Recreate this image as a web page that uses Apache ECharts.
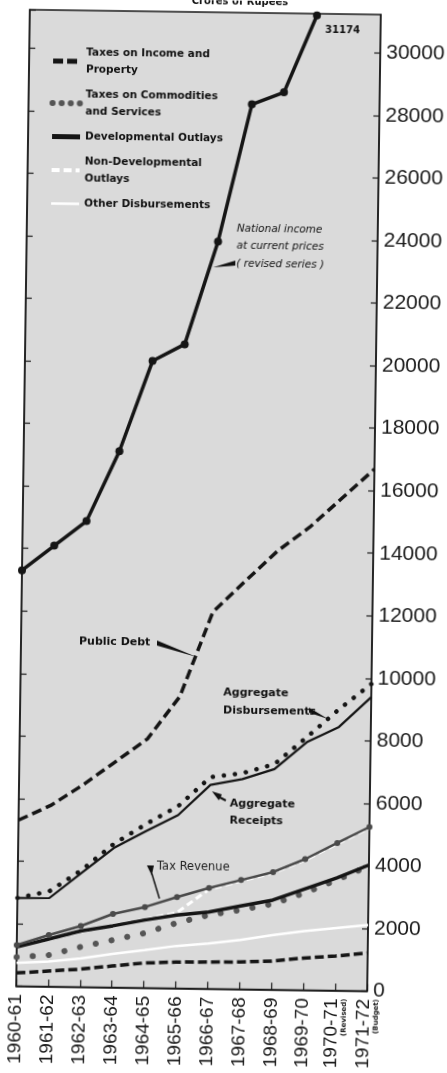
<!DOCTYPE html>
<html><head><meta charset="utf-8">
<script src="https://cdn.jsdelivr.net/npm/echarts/dist/echarts.min.js"></script>
<style>html,body{margin:0;padding:0;background:#fff;overflow:hidden}
#c{width:447px;height:1073px;transform:rotate(0.8deg);transform-origin:192px 500px}</style>
</head><body><div id="c"></div><script>
const categories = ['1960-61','1961-62','1962-63','1963-64','1964-65','1965-66','1966-67','1967-68','1968-69','1969-70','1970-71','1971-72'];
const categoryNotes = {'1970-71':'(Revised)','1971-72':'(Budget)'};
const yTicks = {min:0, max:31230, step:2000};
const nationalIncome = [13300,14100,14900,17150,20050,20600,23900,28300,28700,31174,null,null];
const publicDebt     = [5310,5790,6460,7210,7960,9330,12050,13050,14030,14810,15750,16690];
const aggDisbursements = [2820,3050,3740,4590,5240,5830,6770,6910,7215,8090,9000,9820];
const aggReceipts    = [2820,2830,3650,4460,5015,5540,6520,6720,7055,7930,8430,9400];
const taxRevenue     = [1315,1645,1950,2350,2585,2920,3220,3490,3760,4190,4720,5245];
const devOutlays     = [1250,1520,1790,1970,2170,2345,2455,2660,2865,3235,3600,4030];
const commodityTaxes = [930,1005,1280,1515,1750,2090,2355,2535,2740,3105,3535,4000];
const incomeTaxes    = [420,495,570,685,795,840,855,870,915,1025,1105,1215];
const nonDevOutlays  = [1290,1500,1760,1980,2190,2420,3180,3460,3730,4160,4690,5215];
const otherDisbursements = [740,800,910,1070,1210,1355,1445,1575,1745,1890,2000,2110];

const legendNames = ['Taxes on Income and Property','Taxes on Commodities and Services','Developmental Outlays','Non-Developmental Outlays','Other Disbursements'];
const legendText = {
 'Taxes on Income and Property':'Taxes on Income and\nProperty',
 'Taxes on Commodities and Services':'Taxes on Commodities\nand Services',
 'Developmental Outlays':'Developmental Outlays',
 'Non-Developmental Outlays':'Non-Developmental\nOutlays',
 'Other Disbursements':'Other Disbursements'
};
const legendLine = {
 'Taxes on Income and Property':{width:5, type:[10,4]},
 'Taxes on Commodities and Services':{width:6, type:[0.1,9], cap:'round'},
 'Developmental Outlays':{width:5},
 'Non-Developmental Outlays':{width:4, type:[8,4]},
 'Other Disbursements':{width:2.5}
};

const FONT = 'DejaVu Sans';
function ser(name, data, color, width, type, extra){
  return Object.assign({
    name, type:'line', data, color, symbol:'none', smooth:false, silent:true,
    lineStyle:{color, width, type, cap: Array.isArray(type)&&type[0]<1 ? 'round':'butt'},
    itemStyle:{color}, emphasis:{disabled:true}, animation:false, connectNulls:false
  }, extra||{});
}

const chart = echarts.init(document.getElementById('c'), null, {renderer:'canvas'});
const txt = (x,y,t,opt)=>Object.assign({type:'text', x, y, style:Object.assign({text:t, fill:'#111', font:'bold 11px "'+FONT+'"', textVerticalAlign:'middle'}, opt||{})});
chart.setOption({
  animation:false,
  backgroundColor:'#ffffff',
  grid:{left:23, right:73, top:12, bottom:84.5, show:true, backgroundColor:'#dadada', borderColor:'#1a1a1a', borderWidth:1.5, containLabel:false, outerBoundsMode:'none'},
  legend:{
    data: legendNames.map(n=>({name:n,
      itemStyle:{color:'rgba(0,0,0,0)', borderWidth:0, opacity:0},
      lineStyle:Object.assign({color:'inherit'}, legendLine[n])})),
    orient:'vertical', left:39, top:41, itemWidth:28, itemHeight:12, itemGap:8,
    formatter: n=>legendText[n],
    textStyle:{fontFamily:FONT, fontWeight:'bold', fontSize:10.5, lineHeight:17, color:'#111'},
    selectedMode:false
  },
  xAxis:{type:'category', data:categories, boundaryGap:false,
    axisLine:{lineStyle:{color:'#1a1a1a', width:1.5}},
    axisTick:{inside:true, length:7, lineStyle:{color:'#1a1a1a', width:1.2}},
    axisLabel:{rotate:90, margin:8, interval:0, color:'#1a1a1a', fontFamily:'Liberation Sans', fontSize:19,
      formatter:v=>categoryNotes[v] ? '{a|'+v+'}\n{b|'+categoryNotes[v]+'}' : v,
      rich:{a:{fontFamily:'Liberation Sans', fontSize:19, color:'#1a1a1a'}, b:{fontFamily:FONT, fontWeight:'bold', fontSize:7, color:'#1a1a1a'}}},
    splitLine:{show:false}},
  yAxis:[
    {type:'value', position:'right', min:yTicks.min, max:yTicks.max, interval:yTicks.step,
     axisLine:{show:true, lineStyle:{color:'#1a1a1a', width:1.5}},
     axisTick:{show:true, inside:true, length:6, lineStyle:{color:'#1a1a1a', width:1.2}},
     axisLabel:{margin:6, color:'#1a1a1a', fontFamily:'Liberation Sans', fontSize:21, showMaxLabel:false,
       formatter:v=> v%2000===0 ? String(v) : ''},
     splitLine:{show:false}},
    {type:'value', position:'left', min:yTicks.min, max:yTicks.max, interval:yTicks.step,
     axisLine:{show:true, lineStyle:{color:'#1a1a1a', width:1.5}},
     axisTick:{show:true, inside:true, length:6, lineStyle:{color:'#1a1a1a', width:1.2}},
     axisLabel:{show:false}, splitLine:{show:false}}
  ],
  series:[
    ser('Other Disbursements', otherDisbursements, '#ffffff', 2.5, 'solid'),
    ser('Non-Developmental Outlays', nonDevOutlays, '#ffffff', 3, [7,4]),
    ser('Taxes on Income and Property', incomeTaxes, '#151515', 3.5, [9,4]),
    ser('Taxes on Commodities and Services', commodityTaxes, '#555555', 6, [0.1,16]),
    ser('Developmental Outlays', devOutlays, '#151515', 3.5, 'solid'),
    ser('Tax Revenue', taxRevenue, '#4a4a4a', 2.5, 'solid', {symbol:'circle', symbolSize:6, showSymbol:true}),
    ser('Aggregate Receipts', aggReceipts, '#151515', 2.2, 'solid'),
    ser('Aggregate Disbursements', aggDisbursements, '#151515', 4.5, [0.1,11]),
    ser('Public Debt', publicDebt, '#151515', 3.5, [10,5]),
    ser('National Income', nationalIncome, '#151515', 3.5, 'solid', {symbol:'circle', symbolSize:8, showSymbol:true})
  ],
  graphic:[
    txt(233,1,'Crores of Rupees',{textAlign:'center', font:'bold 10px "'+FONT+'"'}),
    txt(336,28,'31174',{textAlign:'center', font:'bold 10px "'+FONT+'"'}),
    txt(233,228,'National income',{font:'italic 10.5px "'+FONT+'"'}),
    txt(233,245,'at current prices',{font:'italic 10.5px "'+FONT+'"'}),
    txt(233,263,'( revised series )',{font:'italic 10.5px "'+FONT+'"'}),
    {type:'polygon', shape:{points:[[210,267],[232,260],[232,265]]}, style:{fill:'#111'}},
    txt(81,643,'Public Debt'),
    {type:'polygon', shape:{points:[[159,641],[159,646],[199,657]]}, style:{fill:'#111'}},
    txt(226,692,'Aggregate'),
    txt(226,710,'Disbursements'),
    {type:'polygon', shape:{points:[[312,706],[312,711],[331,717]]}, style:{fill:'#111'}},
    txt(234,803,'Aggregate'),
    txt(234,820,'Receipts'),
    {type:'polygon', shape:{points:[[216,791],[226,794],[223,800]]}, style:{fill:'#111'}},
    {type:'line', shape:{x1:224,y1:797,x2:230,y2:800}, style:{stroke:'#111', lineWidth:2}},
    txt(162,867,'Tax Revenue',{font:'11.5px "'+FONT+'"', fill:'#222'}),
    {type:'polygon', shape:{points:[[152,866],[159,866],[157,876]]}, style:{fill:'#111'}},
    {type:'line', shape:{x1:157,y1:874,x2:165,y2:899}, style:{stroke:'#111', lineWidth:1.5}}
  ]
});
</script></body></html>
